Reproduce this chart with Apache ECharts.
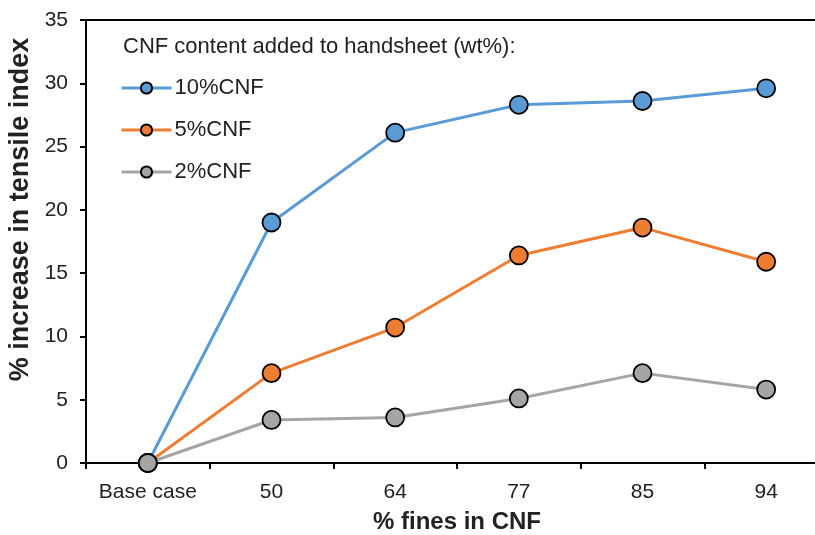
<!DOCTYPE html>
<html>
<head>
<meta charset="utf-8">
<script src="https://cdn.jsdelivr.net/npm/echarts@6/dist/echarts.min.js"></script>
<style>html,body{margin:0;padding:0;background:#fff;overflow:hidden}#c{width:815px;height:535px}</style>
</head>
<body>
<div id="c"></div>
<script>
const categories = ['Base case', '50', '64', '77', '85', '94'];
const cnf10 = [0, 19.0, 26.1, 28.3, 28.6, 29.6];
const cnf5 = [0, 7.1, 10.7, 16.4, 18.6, 15.9];
const cnf2 = [0, 3.4, 3.6, 5.1, 7.1, 5.8];
const seriesNames = ['10%CNF', '5%CNF', '2%CNF'];
const yTicks = { min: 0, max: 35, interval: 5 };

const colors = ['#5B9BD5', '#ED7D31', '#A5A5A5'];
const font = 'Liberation Sans, Arial, sans-serif';
const chart = echarts.init(document.getElementById('c'));
function mk(name, data, color) {
  return {
    name, type: 'line', data,
    symbol: 'circle', symbolSize: 18,
    lineStyle: { color, width: 3 },
    itemStyle: { color, borderColor: '#000', borderWidth: 1.8 },
    z: 3
  };
}
chart.setOption({
  animation: false,
  textStyle: { fontFamily: font },
  title: {
    text: 'CNF content added to handsheet (wt%):',
    left: 118, top: 31,
    textStyle: { fontSize: 22, fontWeight: 'normal', color: '#222', fontFamily: font }
  },
  legend: {
    orient: 'vertical', left: 115, top: 72,
    itemWidth: 50, itemHeight: 14, itemGap: 20,
    lineStyle: { width: 3 },
    textStyle: { fontSize: 22, color: '#222', fontFamily: font, padding: [0, 0, 0, -2] },
    data: seriesNames
  },
  grid: { left: 86, width: 742, top: 20, height: 443, containLabel: false, outerBoundsMode: 'none' },
  xAxis: [{
    type: 'category', data: categories, boundaryGap: true,
    name: '% fines in CNF', nameLocation: 'middle', nameGap: 47,
    nameTextStyle: { fontSize: 24, fontWeight: 'bold', color: '#222', fontFamily: font },
    axisLine: { lineStyle: { color: '#000', width: 2 } },
    axisTick: { show: true, interval: 0, length: 6, lineStyle: { color: '#000', width: 2 } },
    axisLabel: { interval: 0, fontSize: 21, color: '#222', margin: 19, fontFamily: font }
  }, {
    type: 'category', data: categories, position: 'top',
    axisLine: { show: true, lineStyle: { color: '#000', width: 2 } },
    axisTick: { show: false }, axisLabel: { show: false }
  }],
  yAxis: {
    type: 'value', min: yTicks.min, max: yTicks.max, interval: yTicks.interval,
    name: '% increase in tensile index', nameLocation: 'middle', nameGap: 50,
    nameTextStyle: { fontSize: 27, fontWeight: 'bold', color: '#222', fontFamily: font, padding: [0, 0, 0, 64] },
    axisLine: { show: true, lineStyle: { color: '#000', width: 2 } },
    axisTick: { show: true, length: 6, lineStyle: { color: '#000', width: 2 } },
    axisLabel: { fontSize: 21, color: '#222', margin: 18, fontFamily: font },
    splitLine: { show: false }
  },
  series: [mk(seriesNames[0], cnf10, colors[0]), mk(seriesNames[1], cnf5, colors[1]), mk(seriesNames[2], cnf2, colors[2])]
});
</script>
</body>
</html>
